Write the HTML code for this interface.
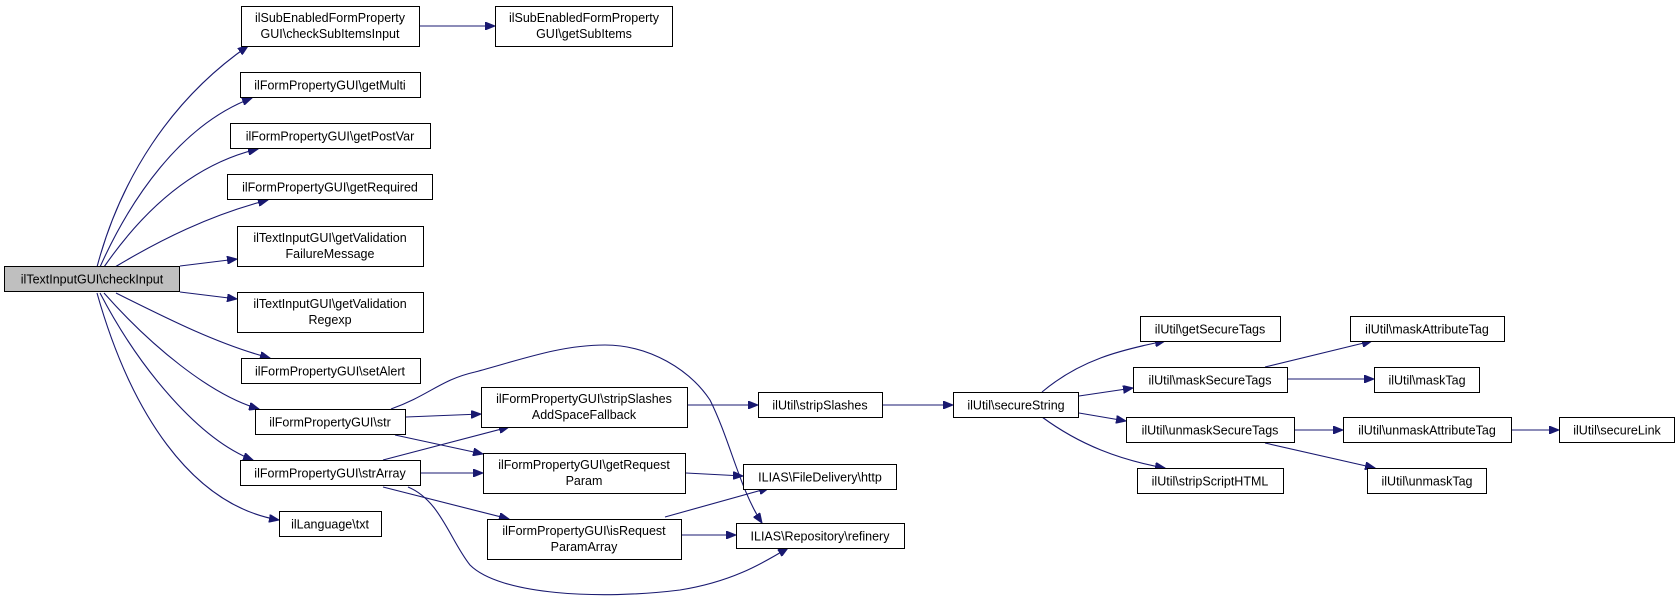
<!DOCTYPE html>
<html><head><meta charset="utf-8"><style>
html,body{margin:0;padding:0;background:#fff;}
svg{display:block;}
text{font-family:"Liberation Sans",Arial,sans-serif;font-size:12.5px;fill:#000;}
rect{fill:#fff;stroke:#000;stroke-width:1;}
path.e{fill:none;stroke:#191970;stroke-width:1.1;}
</style></head><body>
<svg width="1680" height="599" viewBox="0 0 1680 599" xmlns="http://www.w3.org/2000/svg">
<defs>
<marker id="a" markerWidth="11" markerHeight="8" refX="10" refY="4" orient="auto" markerUnits="userSpaceOnUse">
<path d="M0,0 L10,4 L0,8 Z" fill="#191970" stroke="#191970"/>
</marker>
</defs>
<g marker-end="url(#a)">
<path class="e" d="M97,267 C120,180 170,100 248,46"/>
<path class="e" d="M100,267 C130,200 180,125 252,98"/>
<path class="e" d="M104,267 C140,215 190,165 258,149"/>
<path class="e" d="M115,267 C160,240 210,215 268,200"/>
<path class="e" d="M180,266 L237,259"/>
<path class="e" d="M180,292 L237,299"/>
<path class="e" d="M116,293 C170,320 220,345 270,358"/>
<path class="e" d="M104,293 C150,345 210,395 259,409"/>
<path class="e" d="M100,293 C140,370 200,440 253,460"/>
<path class="e" d="M97,293 C130,410 190,505 279,520"/>
<path class="e" d="M420,26 L495,26"/>
<path class="e" d="M406,417 L481,414"/>
<path class="e" d="M395,435 L483,454"/>
<path class="e" d="M391,409 C430,395 440,380 475,372 C520,360 560,345 605,345 C650,345 690,370 710,400 C730,440 740,490 762,523"/>
<path class="e" d="M383,460 L509,427"/>
<path class="e" d="M421,473 L483,473"/>
<path class="e" d="M383,487 L509,519"/>
<path class="e" d="M408,487 C440,500 450,540 470,565 C500,595 600,600 680,590 C730,582 760,565 788,548"/>
<path class="e" d="M688,405 L758,405"/>
<path class="e" d="M686,473 L743,476"/>
<path class="e" d="M665,517 L769,488"/>
<path class="e" d="M682,535 L736,535"/>
<path class="e" d="M883,405 L953,405"/>
<path class="e" d="M1042,392 C1080,360 1120,350 1165,341"/>
<path class="e" d="M1079,396 L1133,388"/>
<path class="e" d="M1079,413 L1126,421"/>
<path class="e" d="M1042,417 C1080,445 1120,460 1165,468"/>
<path class="e" d="M1265,367 L1372,341"/>
<path class="e" d="M1288,379 L1374,379"/>
<path class="e" d="M1295,430 L1343,430"/>
<path class="e" d="M1265,443 L1375,468"/>
<path class="e" d="M1512,430 L1559,430"/>
</g>
<rect x="4.5" y="266.5" width="175" height="25" style="fill:#bfbfbf"/>
<text x="92" y="283.5" text-anchor="middle">ilTextInputGUI\checkInput</text>
<rect x="241.5" y="6.5" width="178" height="40"/><text x="330" y="22" text-anchor="middle">ilSubEnabledFormProperty</text><text x="330" y="38" text-anchor="middle">GUI\checkSubItemsInput</text>
<rect x="495.5" y="6.5" width="177" height="40"/><text x="584" y="22" text-anchor="middle">ilSubEnabledFormProperty</text><text x="584" y="38" text-anchor="middle">GUI\getSubItems</text>
<rect x="240.5" y="72.5" width="180" height="25"/><text x="330" y="89.5" text-anchor="middle">ilFormPropertyGUI\getMulti</text>
<rect x="230.5" y="123.5" width="200" height="25"/><text x="330" y="140.5" text-anchor="middle">ilFormPropertyGUI\getPostVar</text>
<rect x="227.5" y="174.5" width="205" height="25"/><text x="330" y="191.5" text-anchor="middle">ilFormPropertyGUI\getRequired</text>
<rect x="237.5" y="226.5" width="186" height="40"/><text x="330" y="242" text-anchor="middle">ilTextInputGUI\getValidation</text><text x="330" y="258" text-anchor="middle">FailureMessage</text>
<rect x="237.5" y="292.5" width="186" height="40"/><text x="330" y="308" text-anchor="middle">ilTextInputGUI\getValidation</text><text x="330" y="324" text-anchor="middle">Regexp</text>
<rect x="241.5" y="358.5" width="179" height="25"/><text x="330" y="375.5" text-anchor="middle">ilFormPropertyGUI\setAlert</text>
<rect x="255.5" y="409.5" width="150" height="25"/><text x="330" y="426.5" text-anchor="middle">ilFormPropertyGUI\str</text>
<rect x="240.5" y="460.5" width="180" height="25"/><text x="330" y="477.5" text-anchor="middle">ilFormPropertyGUI\strArray</text>
<rect x="279.5" y="511.5" width="102" height="25"/><text x="330" y="528.5" text-anchor="middle">ilLanguage\txt</text>
<rect x="481.5" y="387.5" width="206" height="40"/><text x="584" y="403" text-anchor="middle">ilFormPropertyGUI\stripSlashes</text><text x="584" y="419" text-anchor="middle">AddSpaceFallback</text>
<rect x="483.5" y="453.5" width="202" height="40"/><text x="584" y="469" text-anchor="middle">ilFormPropertyGUI\getRequest</text><text x="584" y="485" text-anchor="middle">Param</text>
<rect x="487.5" y="519.5" width="194" height="40"/><text x="584" y="535" text-anchor="middle">ilFormPropertyGUI\isRequest</text><text x="584" y="551" text-anchor="middle">ParamArray</text>
<rect x="758.5" y="392.5" width="124" height="25"/><text x="820" y="409.5" text-anchor="middle">ilUtil\stripSlashes</text>
<rect x="743.5" y="464.5" width="153" height="25"/><text x="820" y="481.5" text-anchor="middle">ILIAS\FileDelivery\http</text>
<rect x="736.5" y="523.5" width="168" height="25"/><text x="820" y="540.5" text-anchor="middle">ILIAS\Repository\refinery</text>
<rect x="953.5" y="392.5" width="125" height="25"/><text x="1016" y="409.5" text-anchor="middle">ilUtil\secureString</text>
<rect x="1140.5" y="316.5" width="140" height="25"/><text x="1210" y="333.5" text-anchor="middle">ilUtil\getSecureTags</text>
<rect x="1133.5" y="367.5" width="154" height="25"/><text x="1210" y="384.5" text-anchor="middle">ilUtil\maskSecureTags</text>
<rect x="1126.5" y="417.5" width="168" height="25"/><text x="1210" y="434.5" text-anchor="middle">ilUtil\unmaskSecureTags</text>
<rect x="1137.5" y="468.5" width="146" height="25"/><text x="1210" y="485.5" text-anchor="middle">ilUtil\stripScriptHTML</text>
<rect x="1350.5" y="316.5" width="154" height="25"/><text x="1427" y="333.5" text-anchor="middle">ilUtil\maskAttributeTag</text>
<rect x="1374.5" y="367.5" width="105" height="25"/><text x="1427" y="384.5" text-anchor="middle">ilUtil\maskTag</text>
<rect x="1343.5" y="417.5" width="168" height="25"/><text x="1427" y="434.5" text-anchor="middle">ilUtil\unmaskAttributeTag</text>
<rect x="1367.5" y="468.5" width="119" height="25"/><text x="1427" y="485.5" text-anchor="middle">ilUtil\unmaskTag</text>
<rect x="1559.5" y="417.5" width="115" height="25"/><text x="1617" y="434.5" text-anchor="middle">ilUtil\secureLink</text>
</svg>
</body></html>
